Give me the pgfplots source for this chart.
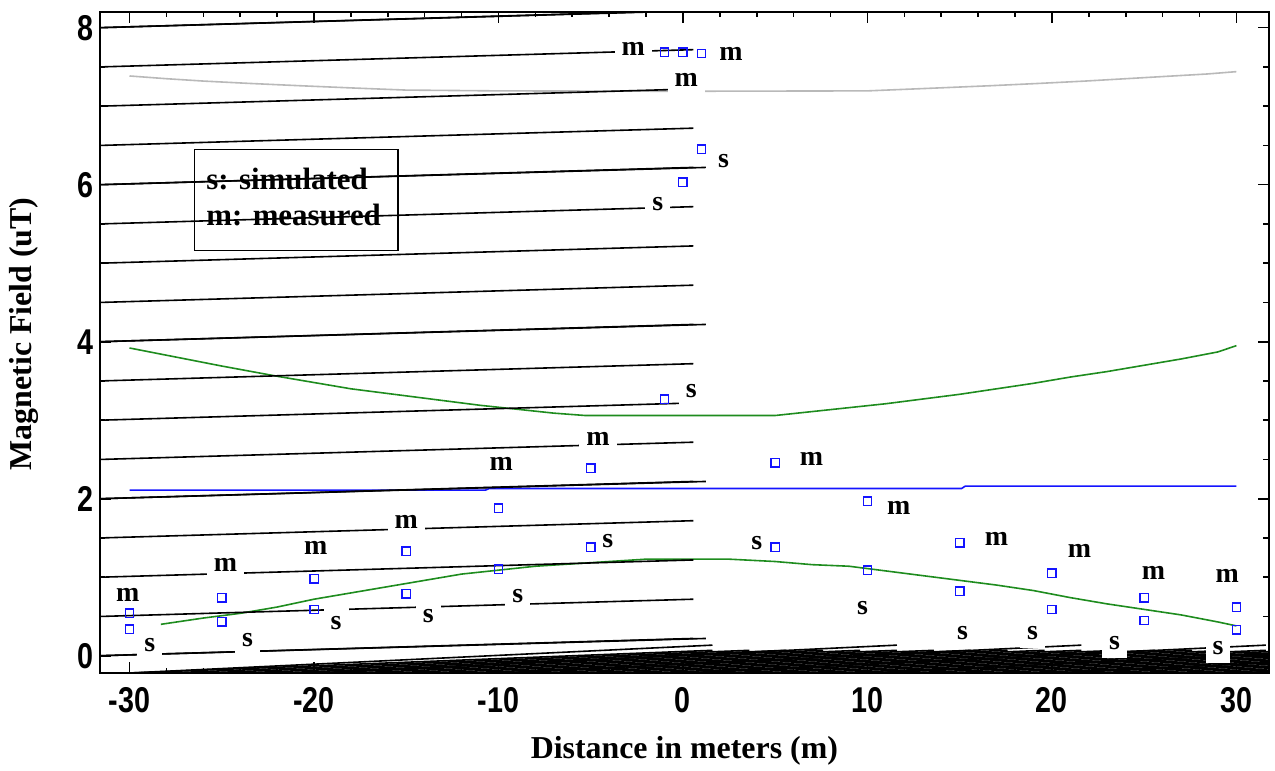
\documentclass[border=0pt]{standalone}
\usepackage{fontspec}
\setmainfont{Liberation Serif}
\newfontfamily\tickfont[FakeStretch=0.8]{Liberation Sans}
\usepackage{pgfplots}
\pgfplotsset{compat=1.18}
\definecolor{gline}{RGB}{185,185,185}
\definecolor{grn}{RGB}{30,140,30}
\definecolor{blu}{RGB}{20,20,255}
\tikzset{lab/.style={fill=white,inner xsep=3.5bp,inner ysep=4bp,font=\bfseries\fontsize{14}{14}\selectfont}}
\begin{document}
\begin{tikzpicture}
\path[use as bounding box] (-50bp,-49bp) rectangle (587.5bp,336.5bp);
\begin{axis}[
 at={(0,0)}, anchor=south west,
 scale only axis, width=584.35bp, height=330.5bp,
 xmin=-31.6, xmax=31.75, ymin=-0.22, ymax=8.2,
 xtick={-30,-20,...,30}, ytick={0,2,4,6,8},
 minor x tick num=4, minor y tick num=3,
 tick style={line width=0.8bp, draw=black},
 major tick length=5.3bp, minor tick length=2.7bp,
 axis line style={line width=1.1bp},
 xticklabels={-30,-20,-10,0,10,20,30},
 yticklabels={0,2,4,6,8},
 ticklabel style={font=\tickfont\bfseries\fontsize{18}{18}\selectfont},
 xticklabel style={yshift=-3.5bp},
 xlabel={Distance in meters (m)}, ylabel={Magnetic Field (uT)},
 label style={font=\bfseries\fontsize{16}{16}\selectfont},
 xlabel style={at={(axis description cs:0.5,-0.118)}, anchor=center},
 ylabel style={at={(axis description cs:-0.065,0.513)}, anchor=center},
]
% gray simulated curve (top)
\addplot[gline, line width=0.8bp] coordinates {
(-30,7.385) (-28,7.35) (-26,7.32) (-23.5,7.29) (-20.7,7.26) (-17.7,7.23) (-15,7.205)
(-10,7.195) (0,7.19) (10,7.195) (13.6,7.23) (16.6,7.26) (19.3,7.29) (21.8,7.32)
(24,7.35) (26.2,7.38) (28.4,7.41) (30,7.44)};
% green upper curve
\addplot[grn, line width=0.8bp] coordinates {
(-30,3.92) (-25,3.69) (-22,3.56) (-18,3.40) (-15,3.31) (-13,3.25) (-11,3.19) (-9,3.14)
(-7,3.09) (-5.3,3.06) (5,3.06) (7,3.11) (9,3.16) (11,3.21) (13,3.27) (15,3.33) (17,3.40)
(19,3.47) (21,3.55) (23,3.62) (25,3.70) (27,3.78) (29,3.87) (30,3.95)};
% blue line
\addplot[blu, line width=0.8bp] coordinates {
(-30,2.11) (-10.7,2.11) (-10.5,2.13) (15.1,2.13) (15.3,2.16) (30,2.16)};
% green lower curve
\addplot[grn, line width=0.8bp] coordinates {
(-28.3,0.40) (-26,0.48) (-24,0.54) (-22,0.62) (-20,0.72) (-18,0.80) (-16,0.88) (-14,0.96)
(-12,1.04) (-10,1.09) (-8,1.14) (-6,1.17) (-4,1.20) (-2,1.23) (2.5,1.23) (5,1.20) (7,1.16)
(9,1.14) (11,1.08) (13,1.02) (15,0.96) (17,0.90) (19,0.83) (21,0.74) (23,0.66) (25,0.59)
(27,0.52) (29,0.43) (30,0.38)};
% measured points
\addplot[only marks, mark=square, mark size=2.1bp, blu, mark options={line width=0.7bp}] coordinates {
(-30,0.54) (-25,0.74) (-20,0.98) (-15,1.33) (-10,1.88) (-5,2.39) (-1,7.69) (0,7.69) (1,7.67)
(5,2.46) (10,1.97) (15,1.44) (20,1.05) (25,0.74) (30,0.62)};
% simulated points
\addplot[only marks, mark=square, mark size=2.1bp, blu, mark options={line width=0.7bp}] coordinates {
(-30,0.34) (-25,0.43) (-20,0.59) (-15,0.79) (-10,1.10) (-5,1.38) (-1,3.27) (0,6.03) (1,6.45)
(5,1.38) (10,1.09) (15,0.82) (20,0.59) (25,0.45) (30,0.33)};
% axis tick marks (frame decoration)
\pgfplotsinvokeforeach{-30,-28,...,30}{
 \draw[line width=0.8bp, black] (axis cs:#1,-0.22) -- ++(0,2.7bp);
 \draw[line width=0.8bp, black] (axis cs:#1,8.2) -- ++(0,-2.7bp);
}
\pgfplotsinvokeforeach{-30,-20,...,30}{
 \draw[line width=0.8bp, black] (axis cs:#1,-0.22) -- ++(0,5.3bp);
 \draw[line width=0.8bp, black] (axis cs:#1,8.2) -- ++(0,-5.3bp);
}
\pgfplotsinvokeforeach{0,0.5,...,8}{
 \draw[line width=0.8bp, black] (axis cs:-31.6,#1) -- ++(5.2bp,0);
 \draw[line width=0.8bp, black] (axis cs:31.75,#1) -- ++(-5.2bp,0);
}
\pgfplotsinvokeforeach{0,2,...,8}{
 \draw[line width=0.8bp, black] (axis cs:-31.6,#1) -- ++(11.5bp,0);
 \draw[line width=0.8bp, black] (axis cs:31.75,#1) -- ++(-11.5bp,0);
}
% m labels
\node[lab] at (axis cs:-30.1,0.78) {m};
\node[lab] at (axis cs:-24.8,1.16) {m};
\node[lab] at (axis cs:-19.9,1.37) {m};
\node[lab] at (axis cs:-15.0,1.71) {m};
\node[lab] at (axis cs:-9.85,2.44) {m};
\node[lab] at (axis cs:-4.6,2.76) {m};
\node[lab] at (axis cs:6.96,2.51) {m};
\node[lab] at (axis cs:11.7,1.88) {m};
\node[lab] at (axis cs:17.0,1.49) {m};
\node[lab] at (axis cs:21.5,1.34) {m};
\node[lab] at (axis cs:25.5,1.06) {m};
\node[lab] at (axis cs:29.5,1.02) {m};
\node[lab] at (axis cs:-2.7,7.73) {m};
\node[lab] at (axis cs:2.6,7.67) {m};
\node[lab] at (axis cs:0.18,7.33) {m};
% s labels
\node[lab] at (axis cs:-28.9,0.14) {s};
\node[lab] at (axis cs:-23.6,0.20) {s};
\node[lab] at (axis cs:-18.8,0.42) {s};
\node[lab] at (axis cs:-13.8,0.50) {s};
\node[lab] at (axis cs:-8.95,0.76) {s};
\node[lab] at (axis cs:-4.07,1.46) {s};
\node[lab] at (axis cs:4.0,1.44) {s};
\node[lab] at (axis cs:9.73,0.61) {s};
\node[lab] at (axis cs:15.15,0.29) {s};
\node[lab] at (axis cs:18.95,0.29) {s};
\node[lab] at (axis cs:23.4,0.16) {s};
\node[lab] at (axis cs:29.0,0.10) {s};
\node[lab] at (axis cs:0.45,3.37) {s};
\node[lab] at (axis cs:-1.36,5.75) {s};
\node[lab] at (axis cs:2.2,6.30) {s};
% legend box
\draw[line width=0.8bp] (axis cs:-26.48,5.16) rectangle (axis cs:-15.46,6.45);
\node[anchor=base west, inner sep=0pt, font=\bfseries\fontsize{15.5}{15.5}\selectfont] at (axis cs:-25.85,5.94) {s: simulated};
\node[anchor=base west, inner sep=0pt, font=\bfseries\fontsize{15.5}{15.5}\selectfont] at (axis cs:-25.85,5.48) {m: measured};
\end{axis}
\end{tikzpicture}
\end{document}
